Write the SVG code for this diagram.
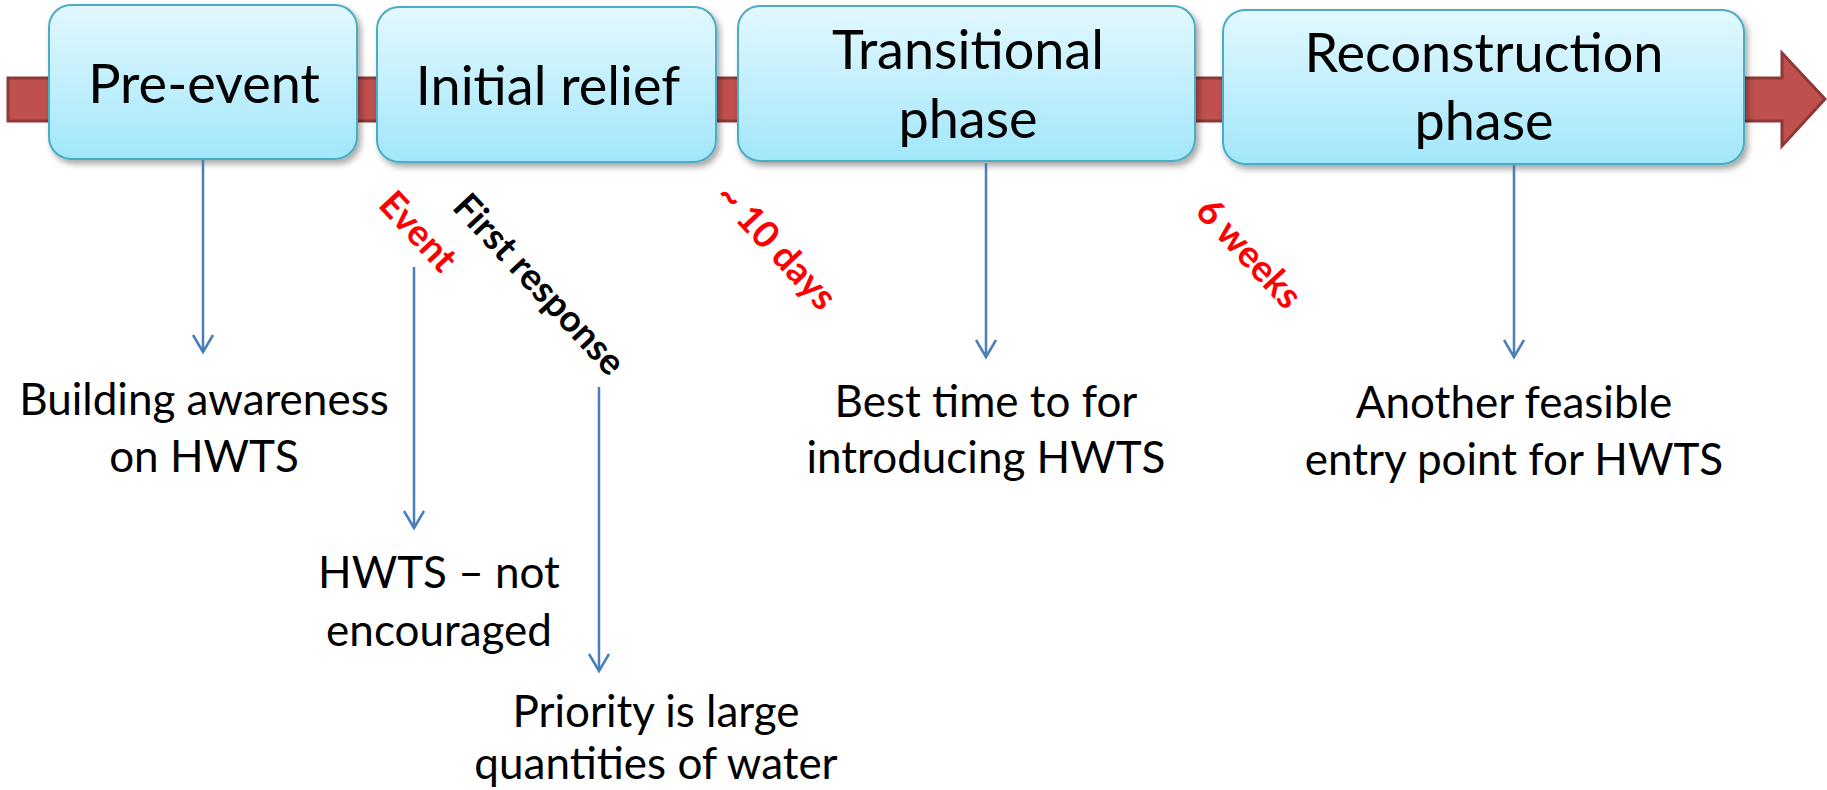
<svg xmlns="http://www.w3.org/2000/svg" width="1827" height="790" viewBox="0 0 1827 790">
  <style>
    .phase { fill: url(#phaseFill); stroke: #4bacc6; stroke-width: 2; filter: url(#shadow); }
    .phase-label { font-family: Lato, "Liberation Sans", sans-serif; font-size: 54px; fill: #000; text-anchor: middle; }
    .note { font-family: Lato, "Liberation Sans", sans-serif; font-size: 44px; fill: #000; text-anchor: middle; }
    .mark { font-family: Lato, "Liberation Sans", sans-serif; font-size: 37px; font-weight: bold; text-anchor: middle; }
    .red { fill: #ff0000; }
    .black { fill: #000; }
    .link { stroke: #4a7ebb; stroke-width: 2.5; fill: none; marker-end: url(#vee); }
  </style>
  <defs>
    <linearGradient id="phaseFill" x1="0" y1="0" x2="0" y2="1">
      <stop offset="0" stop-color="#e3f8fe"/>
      <stop offset="1" stop-color="#a2e7fb"/>
    </linearGradient>
    <filter id="shadow" x="-10%" y="-10%" width="125%" height="135%">
      <feDropShadow dx="3" dy="4" stdDeviation="3" flood-color="#000" flood-opacity="0.35"/>
    </filter>
    <marker id="vee" markerUnits="userSpaceOnUse" viewBox="-20 -15 25 30" markerWidth="25" markerHeight="30" refX="0" refY="0" orient="auto">
      <path d="M-17,-10 L0,0 L-17,10" fill="none" stroke="#4a7ebb" stroke-width="2.5"/>
    </marker>
  </defs>

  <!-- timeline arrow -->
  <g id="timeline">
    <path d="M8,78 H1782 V53 L1825,99 L1782,146 V121 H8 Z" fill="#c0504d" stroke="#8c3836" stroke-width="3"/>
  </g>

  <!-- phase boxes -->
  <g id="pre-event">
    <rect class="phase" x="49" y="5" width="308" height="154" rx="22"/>
    <text class="phase-label" x="204" y="103">Pre-event</text>
  </g>
  <g id="initial-relief">
    <rect class="phase" x="377" y="7" width="339" height="155" rx="22"/>
    <text class="phase-label" x="548" y="105">Initial relief</text>
  </g>
  <g id="transitional">
    <rect class="phase" x="738" y="6" width="457" height="155" rx="22"/>
    <text class="phase-label" x="968" y="69">Transitional</text>
    <text class="phase-label" x="968" y="138">phase</text>
  </g>
  <g id="reconstruction">
    <rect class="phase" x="1223" y="10" width="521" height="154" rx="22"/>
    <text class="phase-label" x="1484" y="72">Reconstruction</text>
    <text class="phase-label" x="1484" y="140">phase</text>
  </g>

  <!-- connectors -->
  <g id="connectors">
    <line class="link" x1="203" y1="160" x2="203" y2="352"/>
    <line class="link" x1="414" y1="267" x2="414" y2="528"/>
    <line class="link" x1="599" y1="387" x2="599" y2="671"/>
    <line class="link" x1="986" y1="163" x2="986" y2="357"/>
    <line class="link" x1="1514" y1="165" x2="1514" y2="357"/>
  </g>

  <!-- milestone markers -->
  <g id="event-mark">
    <text class="mark red" transform="translate(409,240) rotate(47)">Event</text>
  </g>
  <g id="first-response-mark">
    <text class="mark black" transform="translate(530,293) rotate(47)">First response</text>
  </g>
  <g id="ten-days-mark">
    <text class="mark red" transform="translate(767,255) rotate(47)">~ 10 days</text>
  </g>
  <g id="six-weeks-mark">
    <text class="mark red" transform="translate(1240,262) rotate(47)">6 weeks</text>
  </g>

  <!-- outcome notes -->
  <g id="note-awareness">
    <text class="note" x="204" y="415">Building awareness</text>
    <text class="note" x="204" y="472">on HWTS</text>
  </g>
  <g id="note-not-encouraged">
    <text class="note" x="439" y="588">HWTS – not</text>
    <text class="note" x="439" y="646">encouraged</text>
  </g>
  <g id="note-priority">
    <text class="note" x="656" y="727">Priority is large</text>
    <text class="note" x="656" y="779">quantities of water</text>
  </g>
  <g id="note-best-time">
    <text class="note" x="986" y="417">Best time to for</text>
    <text class="note" x="986" y="473">introducing HWTS</text>
  </g>
  <g id="note-another-entry">
    <text class="note" x="1514" y="418">Another feasible</text>
    <text class="note" x="1514" y="475">entry point for HWTS</text>
  </g>
</svg>
